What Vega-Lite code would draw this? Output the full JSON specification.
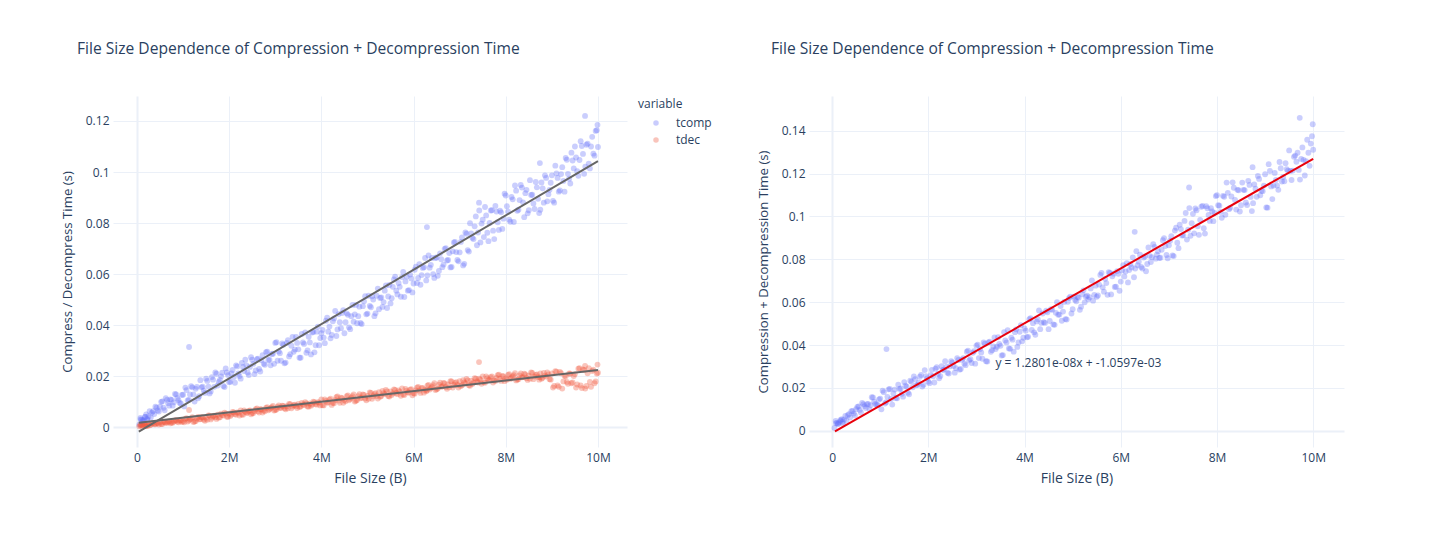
{
"$schema": "https://vega.github.io/schema/vega-lite/v6.json",
"autosize": {"type": "pad"},
"padding": {"left": 60, "top": 42, "right": 5, "bottom": 5},
"background": "white",
"bounds": "flush",
"spacing": 182,
"config": {
 "view": {"stroke": null},
 "font": "Open Sans",
 "axis": {"domain": false, "ticks": false, "gridColor": "#EBF0F8", "gridWidth": {"condition": {"test": "datum.value === 0", "value": 2}, "value": 1}, "labelColor": "#2a3f5f", "titleColor": "#2a3f5f", "labelFontSize": 12, "titleFontSize": 14, "titleFontWeight": "normal", "labelFont": "Open Sans", "titleFont": "Open Sans"},
 "axisX": {"labelPadding": 5, "titlePadding": 8},
 "axisY": {"labelPadding": 4, "titlePadding": 11, "titleFontSize": 13.2},
 "title": {"fontSize": 15.6, "fontWeight": "normal", "color": "#2a3f5f", "font": "Open Sans", "anchor": "start"}
},
"datasets": {
 "pts": [
{"size":0.05,"tcomp":0.0010,"tdec":0.0003,"total":0.0013},
{"size":0.08,"tcomp":0.0030,"tdec":0.0005,"total":0.0035},
{"size":0.10,"tcomp":0.0029,"tdec":0.0007,"total":0.0036},
{"size":0.12,"tcomp":0.0022,"tdec":0.0009,"total":0.0031},
{"size":0.15,"tcomp":0.0027,"tdec":0.0012,"total":0.0039},
{"size":0.18,"tcomp":0.0040,"tdec":0.0006,"total":0.0046},
{"size":0.20,"tcomp":0.0050,"tdec":0.0004,"total":0.0054},
{"size":0.22,"tcomp":0.0031,"tdec":0.0010,"total":0.0041},
{"size":0.25,"tcomp":0.0042,"tdec":0.0011,"total":0.0053},
{"size":0.30,"tcomp":0.0038,"tdec":0.0009,"total":0.0047},
{"size":0.35,"tcomp":0.0062,"tdec":0.0015,"total":0.0077},
{"size":0.40,"tcomp":0.0080,"tdec":0.0011,"total":0.0091},
{"size":0.45,"tcomp":0.0065,"tdec":0.0015,"total":0.0080},
{"size":0.50,"tcomp":0.0080,"tdec":0.0020,"total":0.0100},
{"size":0.55,"tcomp":0.0101,"tdec":0.0012,"total":0.0113},
{"size":0.60,"tcomp":0.0066,"tdec":0.0019,"total":0.0085},
{"size":0.65,"tcomp":0.0107,"tdec":0.0017,"total":0.0124},
{"size":0.70,"tcomp":0.0084,"tdec":0.0022,"total":0.0106},
{"size":0.75,"tcomp":0.0107,"tdec":0.0018,"total":0.0125},
{"size":0.80,"tcomp":0.0097,"tdec":0.0022,"total":0.0119},
{"size":0.85,"tcomp":0.0128,"tdec":0.0027,"total":0.0155},
{"size":0.90,"tcomp":0.0106,"tdec":0.0019,"total":0.0125},
{"size":0.95,"tcomp":0.0093,"tdec":0.0026,"total":0.0119},
{"size":1.00,"tcomp":0.0127,"tdec":0.0023,"total":0.0150},
{"size":1.05,"tcomp":0.0155,"tdec":0.0032,"total":0.0187},
{"size":1.10,"tcomp":0.0105,"tdec":0.0022,"total":0.0127},
{"size":1.13,"tcomp":0.0314,"tdec":0.0067,"total":0.0381},
{"size":1.15,"tcomp":0.0128,"tdec":0.0030,"total":0.0158},
{"size":1.20,"tcomp":0.0156,"tdec":0.0039,"total":0.0195},
{"size":1.25,"tcomp":0.0100,"tdec":0.0022,"total":0.0122},
{"size":1.30,"tcomp":0.0158,"tdec":0.0034,"total":0.0192},
{"size":1.35,"tcomp":0.0121,"tdec":0.0030,"total":0.0151},
{"size":1.40,"tcomp":0.0156,"tdec":0.0039,"total":0.0195},
{"size":1.45,"tcomp":0.0143,"tdec":0.0029,"total":0.0172},
{"size":1.50,"tcomp":0.0190,"tdec":0.0037,"total":0.0227},
{"size":1.55,"tcomp":0.0159,"tdec":0.0046,"total":0.0205},
{"size":1.60,"tcomp":0.0140,"tdec":0.0030,"total":0.0170},
{"size":1.65,"tcomp":0.0186,"tdec":0.0043,"total":0.0229},
{"size":1.70,"tcomp":0.0214,"tdec":0.0039,"total":0.0253},
{"size":1.75,"tcomp":0.0163,"tdec":0.0049,"total":0.0212},
{"size":1.80,"tcomp":0.0185,"tdec":0.0039,"total":0.0224},
{"size":1.85,"tcomp":0.0213,"tdec":0.0047,"total":0.0260},
{"size":1.90,"tcomp":0.0157,"tdec":0.0057,"total":0.0214},
{"size":1.95,"tcomp":0.0214,"tdec":0.0041,"total":0.0255},
{"size":2.00,"tcomp":0.0176,"tdec":0.0053,"total":0.0229},
{"size":2.05,"tcomp":0.0210,"tdec":0.0049,"total":0.0259},
{"size":2.10,"tcomp":0.0196,"tdec":0.0058,"total":0.0254},
{"size":2.15,"tcomp":0.0242,"tdec":0.0048,"total":0.0290},
{"size":2.20,"tcomp":0.0210,"tdec":0.0056,"total":0.0266},
{"size":2.25,"tcomp":0.0190,"tdec":0.0065,"total":0.0255},
{"size":2.30,"tcomp":0.0236,"tdec":0.0048,"total":0.0284},
{"size":2.35,"tcomp":0.0264,"tdec":0.0060,"total":0.0324},
{"size":2.40,"tcomp":0.0214,"tdec":0.0056,"total":0.0270},
{"size":2.45,"tcomp":0.0236,"tdec":0.0065,"total":0.0301},
{"size":2.50,"tcomp":0.0264,"tdec":0.0055,"total":0.0319},
{"size":2.55,"tcomp":0.0208,"tdec":0.0063,"total":0.0271},
{"size":2.60,"tcomp":0.0266,"tdec":0.0073,"total":0.0339},
{"size":2.65,"tcomp":0.0228,"tdec":0.0057,"total":0.0285},
{"size":2.70,"tcomp":0.0262,"tdec":0.0069,"total":0.0331},
{"size":2.75,"tcomp":0.0248,"tdec":0.0065,"total":0.0313},
{"size":2.80,"tcomp":0.0294,"tdec":0.0075,"total":0.0369},
{"size":2.85,"tcomp":0.0262,"tdec":0.0066,"total":0.0328},
{"size":2.90,"tcomp":0.0242,"tdec":0.0074,"total":0.0316},
{"size":2.95,"tcomp":0.0288,"tdec":0.0083,"total":0.0371},
{"size":3.00,"tcomp":0.0330,"tdec":0.0067,"total":0.0397},
{"size":3.05,"tcomp":0.0260,"tdec":0.0079,"total":0.0339},
{"size":3.10,"tcomp":0.0290,"tdec":0.0075,"total":0.0365},
{"size":3.15,"tcomp":0.0328,"tdec":0.0084,"total":0.0412},
{"size":3.20,"tcomp":0.0250,"tdec":0.0074,"total":0.0324},
{"size":3.25,"tcomp":0.0330,"tdec":0.0082,"total":0.0412},
{"size":3.30,"tcomp":0.0277,"tdec":0.0091,"total":0.0368},
{"size":3.35,"tcomp":0.0319,"tdec":0.0074,"total":0.0393},
{"size":3.40,"tcomp":0.0295,"tdec":0.0086,"total":0.0381},
{"size":3.45,"tcomp":0.0354,"tdec":0.0082,"total":0.0436},
{"size":3.50,"tcomp":0.0305,"tdec":0.0091,"total":0.0396},
{"size":3.55,"tcomp":0.0272,"tdec":0.0081,"total":0.0353},
{"size":3.60,"tcomp":0.0332,"tdec":0.0089,"total":0.0421},
{"size":3.65,"tcomp":0.0371,"tdec":0.0098,"total":0.0469},
{"size":3.70,"tcomp":0.0301,"tdec":0.0081,"total":0.0382},
{"size":3.75,"tcomp":0.0332,"tdec":0.0093,"total":0.0425},
{"size":3.80,"tcomp":0.0371,"tdec":0.0089,"total":0.0460},
{"size":3.85,"tcomp":0.0293,"tdec":0.0098,"total":0.0391},
{"size":3.90,"tcomp":0.0374,"tdec":0.0088,"total":0.0462},
{"size":3.95,"tcomp":0.0321,"tdec":0.0096,"total":0.0417},
{"size":4.00,"tcomp":0.0368,"tdec":0.0109,"total":0.0477},
{"size":4.05,"tcomp":0.0351,"tdec":0.0085,"total":0.0436},
{"size":4.10,"tcomp":0.0417,"tdec":0.0103,"total":0.0520},
{"size":4.15,"tcomp":0.0374,"tdec":0.0096,"total":0.0470},
{"size":4.20,"tcomp":0.0348,"tdec":0.0111,"total":0.0459},
{"size":4.25,"tcomp":0.0415,"tdec":0.0095,"total":0.0510},
{"size":4.30,"tcomp":0.0455,"tdec":0.0106,"total":0.0561},
{"size":4.35,"tcomp":0.0383,"tdec":0.0120,"total":0.0503},
{"size":4.40,"tcomp":0.0411,"tdec":0.0095,"total":0.0506},
{"size":4.45,"tcomp":0.0447,"tdec":0.0113,"total":0.0560},
{"size":4.50,"tcomp":0.0368,"tdec":0.0106,"total":0.0474},
{"size":4.55,"tcomp":0.0446,"tdec":0.0121,"total":0.0567},
{"size":4.60,"tcomp":0.0391,"tdec":0.0105,"total":0.0496},
{"size":4.65,"tcomp":0.0435,"tdec":0.0115,"total":0.0550},
{"size":4.70,"tcomp":0.0413,"tdec":0.0128,"total":0.0541},
{"size":4.75,"tcomp":0.0479,"tdec":0.0103,"total":0.0582},
{"size":4.80,"tcomp":0.0435,"tdec":0.0121,"total":0.0556},
{"size":4.85,"tcomp":0.0408,"tdec":0.0113,"total":0.0521},
{"size":4.90,"tcomp":0.0474,"tdec":0.0128,"total":0.0602},
{"size":4.95,"tcomp":0.0513,"tdec":0.0112,"total":0.0625},
{"size":5.00,"tcomp":0.0445,"tdec":0.0122,"total":0.0567},
{"size":5.05,"tcomp":0.0475,"tdec":0.0136,"total":0.0611},
{"size":5.10,"tcomp":0.0513,"tdec":0.0111,"total":0.0624},
{"size":5.15,"tcomp":0.0435,"tdec":0.0129,"total":0.0564},
{"size":5.20,"tcomp":0.0515,"tdec":0.0122,"total":0.0637},
{"size":5.25,"tcomp":0.0462,"tdec":0.0137,"total":0.0599},
{"size":5.30,"tcomp":0.0508,"tdec":0.0122,"total":0.0630},
{"size":5.35,"tcomp":0.0490,"tdec":0.0133,"total":0.0623},
{"size":5.40,"tcomp":0.0555,"tdec":0.0146,"total":0.0701},
{"size":5.45,"tcomp":0.0512,"tdec":0.0122,"total":0.0634},
{"size":5.50,"tcomp":0.0485,"tdec":0.0140,"total":0.0625},
{"size":5.55,"tcomp":0.0550,"tdec":0.0132,"total":0.0682},
{"size":5.60,"tcomp":0.0590,"tdec":0.0146,"total":0.0736},
{"size":5.65,"tcomp":0.0520,"tdec":0.0129,"total":0.0649},
{"size":5.70,"tcomp":0.0550,"tdec":0.0139,"total":0.0689},
{"size":5.75,"tcomp":0.0588,"tdec":0.0152,"total":0.0740},
{"size":5.80,"tcomp":0.0510,"tdec":0.0126,"total":0.0636},
{"size":5.85,"tcomp":0.0590,"tdec":0.0143,"total":0.0733},
{"size":5.90,"tcomp":0.0537,"tdec":0.0135,"total":0.0672},
{"size":5.95,"tcomp":0.0583,"tdec":0.0149,"total":0.0732},
{"size":6.00,"tcomp":0.0563,"tdec":0.0133,"total":0.0696},
{"size":6.05,"tcomp":0.0629,"tdec":0.0144,"total":0.0773},
{"size":6.10,"tcomp":0.0585,"tdec":0.0158,"total":0.0743},
{"size":6.15,"tcomp":0.0558,"tdec":0.0134,"total":0.0692},
{"size":6.20,"tcomp":0.0624,"tdec":0.0153,"total":0.0777},
{"size":6.25,"tcomp":0.0663,"tdec":0.0146,"total":0.0809},
{"size":6.29,"tcomp":0.0784,"tdec":0.0144,"total":0.0928},
{"size":6.30,"tcomp":0.0595,"tdec":0.0162,"total":0.0757},
{"size":6.35,"tcomp":0.0625,"tdec":0.0147,"total":0.0772},
{"size":6.40,"tcomp":0.0663,"tdec":0.0158,"total":0.0821},
{"size":6.45,"tcomp":0.0585,"tdec":0.0172,"total":0.0757},
{"size":6.50,"tcomp":0.0665,"tdec":0.0148,"total":0.0813},
{"size":6.55,"tcomp":0.0612,"tdec":0.0166,"total":0.0778},
{"size":6.60,"tcomp":0.0658,"tdec":0.0158,"total":0.0816},
{"size":6.65,"tcomp":0.0637,"tdec":0.0173,"total":0.0810},
{"size":6.70,"tcomp":0.0701,"tdec":0.0157,"total":0.0858},
{"size":6.75,"tcomp":0.0655,"tdec":0.0167,"total":0.0822},
{"size":6.80,"tcomp":0.0626,"tdec":0.0180,"total":0.0806},
{"size":6.85,"tcomp":0.0689,"tdec":0.0155,"total":0.0844},
{"size":6.90,"tcomp":0.0726,"tdec":0.0173,"total":0.0899},
{"size":6.95,"tcomp":0.0655,"tdec":0.0165,"total":0.0820},
{"size":7.00,"tcomp":0.0685,"tdec":0.0180,"total":0.0865},
{"size":7.05,"tcomp":0.0744,"tdec":0.0164,"total":0.0908},
{"size":7.10,"tcomp":0.0640,"tdec":0.0175,"total":0.0815},
{"size":7.15,"tcomp":0.0758,"tdec":0.0189,"total":0.0947},
{"size":7.20,"tcomp":0.0688,"tdec":0.0164,"total":0.0852},
{"size":7.25,"tcomp":0.0759,"tdec":0.0182,"total":0.0941},
{"size":7.30,"tcomp":0.0737,"tdec":0.0175,"total":0.0912},
{"size":7.35,"tcomp":0.0826,"tdec":0.0190,"total":0.1016},
{"size":7.40,"tcomp":0.0763,"tdec":0.0175,"total":0.0938},
{"size":7.42,"tcomp":0.0880,"tdec":0.0255,"total":0.1135},
{"size":7.45,"tcomp":0.0724,"tdec":0.0186,"total":0.0910},
{"size":7.50,"tcomp":0.0813,"tdec":0.0199,"total":0.1012},
{"size":7.55,"tcomp":0.0863,"tdec":0.0174,"total":0.1037},
{"size":7.60,"tcomp":0.0762,"tdec":0.0192,"total":0.0954},
{"size":7.65,"tcomp":0.0800,"tdec":0.0184,"total":0.0984},
{"size":7.70,"tcomp":0.0850,"tdec":0.0199,"total":0.1049},
{"size":7.75,"tcomp":0.0737,"tdec":0.0183,"total":0.0920},
{"size":7.80,"tcomp":0.0845,"tdec":0.0193,"total":0.1038},
{"size":7.85,"tcomp":0.0773,"tdec":0.0206,"total":0.0979},
{"size":7.90,"tcomp":0.0842,"tdec":0.0181,"total":0.1023},
{"size":7.95,"tcomp":0.0817,"tdec":0.0199,"total":0.1016},
{"size":8.00,"tcomp":0.0908,"tdec":0.0191,"total":0.1099},
{"size":8.05,"tcomp":0.0845,"tdec":0.0205,"total":0.1050},
{"size":8.10,"tcomp":0.0805,"tdec":0.0189,"total":0.0994},
{"size":8.15,"tcomp":0.0893,"tdec":0.0199,"total":0.1092},
{"size":8.20,"tcomp":0.0947,"tdec":0.0211,"total":0.1158},
{"size":8.25,"tcomp":0.0848,"tdec":0.0186,"total":0.1034},
{"size":8.30,"tcomp":0.0890,"tdec":0.0203,"total":0.1093},
{"size":8.35,"tcomp":0.0939,"tdec":0.0195,"total":0.1134},
{"size":8.40,"tcomp":0.0823,"tdec":0.0209,"total":0.1032},
{"size":8.45,"tcomp":0.0930,"tdec":0.0192,"total":0.1122},
{"size":8.50,"tcomp":0.0850,"tdec":0.0202,"total":0.1052},
{"size":8.55,"tcomp":0.0910,"tdec":0.0214,"total":0.1124},
{"size":8.60,"tcomp":0.0877,"tdec":0.0188,"total":0.1065},
{"size":8.65,"tcomp":0.0961,"tdec":0.0205,"total":0.1166},
{"size":8.70,"tcomp":0.0895,"tdec":0.0196,"total":0.1091},
{"size":8.74,"tcomp":0.1035,"tdec":0.0195,"total":0.1230},
{"size":8.75,"tcomp":0.0852,"tdec":0.0210,"total":0.1062},
{"size":8.80,"tcomp":0.0936,"tdec":0.0193,"total":0.1129},
{"size":8.85,"tcomp":0.0987,"tdec":0.0202,"total":0.1189},
{"size":8.90,"tcomp":0.0885,"tdec":0.0214,"total":0.1099},
{"size":8.95,"tcomp":0.0930,"tdec":0.0188,"total":0.1118},
{"size":9.00,"tcomp":0.0987,"tdec":0.0210,"total":0.1197},
{"size":9.05,"tcomp":0.0880,"tdec":0.0161,"total":0.1041},
{"size":9.10,"tcomp":0.0995,"tdec":0.0217,"total":0.1212},
{"size":9.15,"tcomp":0.0923,"tdec":0.0158,"total":0.1081},
{"size":9.20,"tcomp":0.0992,"tdec":0.0211,"total":0.1203},
{"size":9.25,"tcomp":0.0965,"tdec":0.0179,"total":0.1144},
{"size":9.30,"tcomp":0.1055,"tdec":0.0199,"total":0.1254},
{"size":9.35,"tcomp":0.0993,"tdec":0.0170,"total":0.1163},
{"size":9.40,"tcomp":0.0955,"tdec":0.0209,"total":0.1164},
{"size":9.45,"tcomp":0.1045,"tdec":0.0175,"total":0.1220},
{"size":9.50,"tcomp":0.1100,"tdec":0.0208,"total":0.1308},
{"size":9.55,"tcomp":0.1003,"tdec":0.0167,"total":0.1170},
{"size":9.60,"tcomp":0.1047,"tdec":0.0231,"total":0.1278},
{"size":9.65,"tcomp":0.1102,"tdec":0.0153,"total":0.1255},
{"size":9.70,"tcomp":0.0993,"tdec":0.0224,"total":0.1217},
{"size":9.72,"tcomp":0.1220,"tdec":0.0240,"total":0.1460},
{"size":9.75,"tcomp":0.1107,"tdec":0.0161,"total":0.1268},
{"size":9.80,"tcomp":0.1033,"tdec":0.0231,"total":0.1264},
{"size":9.85,"tcomp":0.1100,"tdec":0.0158,"total":0.1258},
{"size":9.90,"tcomp":0.1072,"tdec":0.0225,"total":0.1297},
{"size":9.95,"tcomp":0.1161,"tdec":0.0179,"total":0.1340},
{"size":9.99,"tcomp":0.1185,"tdec":0.0245,"total":0.1430},
{"size":10.00,"tcomp":0.1098,"tdec":0.0213,"total":0.1311},
{"size":0.075,"tcomp":0.0036,"tdec":0.0010,"total":0.0046},
{"size":0.125,"tcomp":0.0027,"tdec":0.0006,"total":0.0033},
{"size":0.175,"tcomp":0.0040,"tdec":0.0010,"total":0.0050},
{"size":0.225,"tcomp":0.0029,"tdec":0.0004,"total":0.0033},
{"size":0.275,"tcomp":0.0062,"tdec":0.0007,"total":0.0069},
{"size":0.325,"tcomp":0.0057,"tdec":0.0015,"total":0.0072},
{"size":0.375,"tcomp":0.0051,"tdec":0.0011,"total":0.0062},
{"size":0.425,"tcomp":0.0076,"tdec":0.0016,"total":0.0092},
{"size":0.475,"tcomp":0.0061,"tdec":0.0010,"total":0.0071},
{"size":0.525,"tcomp":0.0099,"tdec":0.0012,"total":0.0111},
{"size":0.575,"tcomp":0.0076,"tdec":0.0021,"total":0.0097},
{"size":0.625,"tcomp":0.0113,"tdec":0.0017,"total":0.0130},
{"size":0.675,"tcomp":0.0094,"tdec":0.0021,"total":0.0115},
{"size":0.725,"tcomp":0.0109,"tdec":0.0015,"total":0.0124},
{"size":0.775,"tcomp":0.0084,"tdec":0.0017,"total":0.0101},
{"size":0.825,"tcomp":0.0130,"tdec":0.0026,"total":0.0156},
{"size":0.875,"tcomp":0.0113,"tdec":0.0022,"total":0.0135},
{"size":0.925,"tcomp":0.0095,"tdec":0.0026,"total":0.0121},
{"size":0.975,"tcomp":0.0126,"tdec":0.0020,"total":0.0146},
{"size":1.025,"tcomp":0.0081,"tdec":0.0019,"total":0.0100},
{"size":1.075,"tcomp":0.0145,"tdec":0.0035,"total":0.0180},
{"size":1.125,"tcomp":0.0107,"tdec":0.0026,"total":0.0133},
{"size":1.175,"tcomp":0.0160,"tdec":0.0033,"total":0.0193},
{"size":1.225,"tcomp":0.0128,"tdec":0.0020,"total":0.0148},
{"size":1.275,"tcomp":0.0150,"tdec":0.0024,"total":0.0174},
{"size":1.325,"tcomp":0.0113,"tdec":0.0040,"total":0.0153},
{"size":1.375,"tcomp":0.0184,"tdec":0.0031,"total":0.0215},
{"size":1.425,"tcomp":0.0159,"tdec":0.0038,"total":0.0197},
{"size":1.475,"tcomp":0.0134,"tdec":0.0025,"total":0.0159},
{"size":1.525,"tcomp":0.0181,"tdec":0.0029,"total":0.0210},
{"size":1.575,"tcomp":0.0132,"tdec":0.0045,"total":0.0177},
{"size":1.625,"tcomp":0.0196,"tdec":0.0037,"total":0.0233},
{"size":1.675,"tcomp":0.0158,"tdec":0.0045,"total":0.0203},
{"size":1.725,"tcomp":0.0209,"tdec":0.0032,"total":0.0241},
{"size":1.775,"tcomp":0.0177,"tdec":0.0037,"total":0.0214},
{"size":1.825,"tcomp":0.0199,"tdec":0.0053,"total":0.0252},
{"size":1.875,"tcomp":0.0161,"tdec":0.0045,"total":0.0206},
{"size":1.925,"tcomp":0.0230,"tdec":0.0053,"total":0.0283},
{"size":1.975,"tcomp":0.0204,"tdec":0.0040,"total":0.0244},
{"size":2.025,"tcomp":0.0178,"tdec":0.0044,"total":0.0222},
{"size":2.075,"tcomp":0.0224,"tdec":0.0060,"total":0.0284},
{"size":2.125,"tcomp":0.0174,"tdec":0.0051,"total":0.0225},
{"size":2.175,"tcomp":0.0238,"tdec":0.0058,"total":0.0296},
{"size":2.225,"tcomp":0.0200,"tdec":0.0045,"total":0.0245},
{"size":2.275,"tcomp":0.0252,"tdec":0.0049,"total":0.0301},
{"size":2.325,"tcomp":0.0220,"tdec":0.0065,"total":0.0285},
{"size":2.375,"tcomp":0.0242,"tdec":0.0056,"total":0.0298},
{"size":2.425,"tcomp":0.0204,"tdec":0.0063,"total":0.0267},
{"size":2.475,"tcomp":0.0274,"tdec":0.0050,"total":0.0324},
{"size":2.525,"tcomp":0.0248,"tdec":0.0054,"total":0.0302},
{"size":2.575,"tcomp":0.0222,"tdec":0.0070,"total":0.0292},
{"size":2.625,"tcomp":0.0268,"tdec":0.0062,"total":0.0330},
{"size":2.675,"tcomp":0.0218,"tdec":0.0070,"total":0.0288},
{"size":2.725,"tcomp":0.0282,"tdec":0.0057,"total":0.0339},
{"size":2.775,"tcomp":0.0244,"tdec":0.0062,"total":0.0306},
{"size":2.825,"tcomp":0.0296,"tdec":0.0078,"total":0.0374},
{"size":2.875,"tcomp":0.0264,"tdec":0.0070,"total":0.0334},
{"size":2.925,"tcomp":0.0286,"tdec":0.0078,"total":0.0364},
{"size":2.975,"tcomp":0.0248,"tdec":0.0065,"total":0.0313},
{"size":3.025,"tcomp":0.0333,"tdec":0.0069,"total":0.0402},
{"size":3.075,"tcomp":0.0296,"tdec":0.0085,"total":0.0381},
{"size":3.125,"tcomp":0.0260,"tdec":0.0076,"total":0.0336},
{"size":3.175,"tcomp":0.0323,"tdec":0.0083,"total":0.0406},
{"size":3.225,"tcomp":0.0253,"tdec":0.0070,"total":0.0323},
{"size":3.275,"tcomp":0.0341,"tdec":0.0074,"total":0.0415},
{"size":3.325,"tcomp":0.0286,"tdec":0.0090,"total":0.0376},
{"size":3.375,"tcomp":0.0354,"tdec":0.0081,"total":0.0435},
{"size":3.425,"tcomp":0.0304,"tdec":0.0088,"total":0.0392},
{"size":3.475,"tcomp":0.0330,"tdec":0.0075,"total":0.0405},
{"size":3.525,"tcomp":0.0272,"tdec":0.0079,"total":0.0351},
{"size":3.575,"tcomp":0.0365,"tdec":0.0095,"total":0.0460},
{"size":3.625,"tcomp":0.0326,"tdec":0.0086,"total":0.0412},
{"size":3.675,"tcomp":0.0291,"tdec":0.0093,"total":0.0384},
{"size":3.725,"tcomp":0.0354,"tdec":0.0080,"total":0.0434},
{"size":3.775,"tcomp":0.0285,"tdec":0.0084,"total":0.0369},
{"size":3.825,"tcomp":0.0373,"tdec":0.0100,"total":0.0473},
{"size":3.875,"tcomp":0.0321,"tdec":0.0091,"total":0.0412},
{"size":3.925,"tcomp":0.0394,"tdec":0.0098,"total":0.0492},
{"size":3.975,"tcomp":0.0349,"tdec":0.0085,"total":0.0434},
{"size":4.025,"tcomp":0.0381,"tdec":0.0086,"total":0.0467},
{"size":4.075,"tcomp":0.0329,"tdec":0.0109,"total":0.0438},
{"size":4.125,"tcomp":0.0429,"tdec":0.0096,"total":0.0525},
{"size":4.175,"tcomp":0.0394,"tdec":0.0108,"total":0.0502},
{"size":4.225,"tcomp":0.0361,"tdec":0.0087,"total":0.0448},
{"size":4.275,"tcomp":0.0426,"tdec":0.0094,"total":0.0520},
{"size":4.325,"tcomp":0.0357,"tdec":0.0117,"total":0.0474},
{"size":4.375,"tcomp":0.0443,"tdec":0.0104,"total":0.0547},
{"size":4.425,"tcomp":0.0388,"tdec":0.0115,"total":0.0503},
{"size":4.475,"tcomp":0.0458,"tdec":0.0095,"total":0.0553},
{"size":4.525,"tcomp":0.0411,"tdec":0.0101,"total":0.0512},
{"size":4.575,"tcomp":0.0440,"tdec":0.0124,"total":0.0564},
{"size":4.625,"tcomp":0.0384,"tdec":0.0110,"total":0.0494},
{"size":4.675,"tcomp":0.0479,"tdec":0.0121,"total":0.0600},
{"size":4.725,"tcomp":0.0442,"tdec":0.0100,"total":0.0542},
{"size":4.775,"tcomp":0.0407,"tdec":0.0106,"total":0.0513},
{"size":4.825,"tcomp":0.0472,"tdec":0.0129,"total":0.0601},
{"size":4.875,"tcomp":0.0404,"tdec":0.0115,"total":0.0519},
{"size":4.925,"tcomp":0.0493,"tdec":0.0126,"total":0.0619},
{"size":4.975,"tcomp":0.0442,"tdec":0.0105,"total":0.0547},
{"size":5.025,"tcomp":0.0515,"tdec":0.0111,"total":0.0626},
{"size":5.075,"tcomp":0.0470,"tdec":0.0134,"total":0.0604},
{"size":5.125,"tcomp":0.0500,"tdec":0.0121,"total":0.0621},
{"size":5.175,"tcomp":0.0446,"tdec":0.0133,"total":0.0579},
{"size":5.225,"tcomp":0.0543,"tdec":0.0112,"total":0.0655},
{"size":5.275,"tcomp":0.0506,"tdec":0.0119,"total":0.0625},
{"size":5.325,"tcomp":0.0471,"tdec":0.0142,"total":0.0613},
{"size":5.375,"tcomp":0.0535,"tdec":0.0129,"total":0.0664},
{"size":5.425,"tcomp":0.0467,"tdec":0.0140,"total":0.0607},
{"size":5.475,"tcomp":0.0557,"tdec":0.0120,"total":0.0677},
{"size":5.525,"tcomp":0.0505,"tdec":0.0126,"total":0.0631},
{"size":5.575,"tcomp":0.0579,"tdec":0.0148,"total":0.0727},
{"size":5.625,"tcomp":0.0535,"tdec":0.0134,"total":0.0669},
{"size":5.675,"tcomp":0.0565,"tdec":0.0144,"total":0.0709},
{"size":5.725,"tcomp":0.0511,"tdec":0.0123,"total":0.0634},
{"size":5.775,"tcomp":0.0608,"tdec":0.0128,"total":0.0736},
{"size":5.825,"tcomp":0.0571,"tdec":0.0150,"total":0.0721},
{"size":5.875,"tcomp":0.0535,"tdec":0.0136,"total":0.0671},
{"size":5.925,"tcomp":0.0598,"tdec":0.0147,"total":0.0745},
{"size":5.975,"tcomp":0.0528,"tdec":0.0125,"total":0.0653},
{"size":6.025,"tcomp":0.0617,"tdec":0.0131,"total":0.0748},
{"size":6.075,"tcomp":0.0565,"tdec":0.0155,"total":0.0720},
{"size":6.125,"tcomp":0.0639,"tdec":0.0143,"total":0.0782},
{"size":6.175,"tcomp":0.0596,"tdec":0.0154,"total":0.0750},
{"size":6.225,"tcomp":0.0627,"tdec":0.0135,"total":0.0762},
{"size":6.275,"tcomp":0.0575,"tdec":0.0141,"total":0.0716},
{"size":6.325,"tcomp":0.0673,"tdec":0.0165,"total":0.0838},
{"size":6.375,"tcomp":0.0636,"tdec":0.0153,"total":0.0789},
{"size":6.425,"tcomp":0.0600,"tdec":0.0164,"total":0.0764},
{"size":6.475,"tcomp":0.0663,"tdec":0.0145,"total":0.0808},
{"size":6.525,"tcomp":0.0593,"tdec":0.0151,"total":0.0744},
{"size":6.575,"tcomp":0.0681,"tdec":0.0174,"total":0.0855},
{"size":6.625,"tcomp":0.0627,"tdec":0.0160,"total":0.0787},
{"size":6.675,"tcomp":0.0699,"tdec":0.0171,"total":0.0870},
{"size":6.725,"tcomp":0.0653,"tdec":0.0150,"total":0.0803},
{"size":6.775,"tcomp":0.0682,"tdec":0.0156,"total":0.0838},
{"size":6.825,"tcomp":0.0628,"tdec":0.0179,"total":0.0807},
{"size":6.875,"tcomp":0.0724,"tdec":0.0165,"total":0.0889},
{"size":6.925,"tcomp":0.0686,"tdec":0.0176,"total":0.0862},
{"size":6.975,"tcomp":0.0650,"tdec":0.0155,"total":0.0805},
{"size":7.025,"tcomp":0.0726,"tdec":0.0161,"total":0.0887},
{"size":7.075,"tcomp":0.0634,"tdec":0.0184,"total":0.0818},
{"size":7.125,"tcomp":0.0763,"tdec":0.0171,"total":0.0934},
{"size":7.175,"tcomp":0.0694,"tdec":0.0183,"total":0.0877},
{"size":7.225,"tcomp":0.0799,"tdec":0.0162,"total":0.0961},
{"size":7.275,"tcomp":0.0742,"tdec":0.0169,"total":0.0911},
{"size":7.325,"tcomp":0.0787,"tdec":0.0192,"total":0.0979},
{"size":7.375,"tcomp":0.0713,"tdec":0.0179,"total":0.0892},
{"size":7.425,"tcomp":0.0849,"tdec":0.0190,"total":0.1039},
{"size":7.475,"tcomp":0.0798,"tdec":0.0170,"total":0.0968},
{"size":7.525,"tcomp":0.0745,"tdec":0.0176,"total":0.0921},
{"size":7.575,"tcomp":0.0830,"tdec":0.0199,"total":0.1029},
{"size":7.625,"tcomp":0.0729,"tdec":0.0185,"total":0.0914},
{"size":7.675,"tcomp":0.0849,"tdec":0.0196,"total":0.1045},
{"size":7.725,"tcomp":0.0770,"tdec":0.0175,"total":0.0945},
{"size":7.775,"tcomp":0.0867,"tdec":0.0181,"total":0.1048},
{"size":7.825,"tcomp":0.0803,"tdec":0.0204,"total":0.1007},
{"size":7.875,"tcomp":0.0848,"tdec":0.0190,"total":0.1038},
{"size":7.925,"tcomp":0.0777,"tdec":0.0201,"total":0.0978},
{"size":7.975,"tcomp":0.0915,"tdec":0.0180,"total":0.1095},
{"size":8.025,"tcomp":0.0866,"tdec":0.0186,"total":0.1052},
{"size":8.075,"tcomp":0.0813,"tdec":0.0208,"total":0.1021},
{"size":8.125,"tcomp":0.0902,"tdec":0.0194,"total":0.1096},
{"size":8.175,"tcomp":0.0804,"tdec":0.0204,"total":0.1008},
{"size":8.225,"tcomp":0.0927,"tdec":0.0183,"total":0.1110},
{"size":8.275,"tcomp":0.0852,"tdec":0.0188,"total":0.1040},
{"size":8.325,"tcomp":0.0949,"tdec":0.0210,"total":0.1159},
{"size":8.375,"tcomp":0.0881,"tdec":0.0196,"total":0.1077},
{"size":8.425,"tcomp":0.0917,"tdec":0.0207,"total":0.1124},
{"size":8.475,"tcomp":0.0838,"tdec":0.0185,"total":0.1023},
{"size":8.525,"tcomp":0.0968,"tdec":0.0190,"total":0.1158},
{"size":8.575,"tcomp":0.0911,"tdec":0.0212,"total":0.1123},
{"size":8.625,"tcomp":0.0855,"tdec":0.0198,"total":0.1053},
{"size":8.675,"tcomp":0.0940,"tdec":0.0207,"total":0.1147},
{"size":8.725,"tcomp":0.0839,"tdec":0.0186,"total":0.1025},
{"size":8.775,"tcomp":0.0959,"tdec":0.0190,"total":0.1149},
{"size":8.825,"tcomp":0.0880,"tdec":0.0212,"total":0.1092},
{"size":8.875,"tcomp":0.0977,"tdec":0.0198,"total":0.1175},
{"size":8.925,"tcomp":0.0913,"tdec":0.0207,"total":0.1120},
{"size":8.975,"tcomp":0.0958,"tdec":0.0186,"total":0.1144},
{"size":9.025,"tcomp":0.0887,"tdec":0.0155,"total":0.1042},
{"size":9.075,"tcomp":0.1025,"tdec":0.0219,"total":0.1244},
{"size":9.125,"tcomp":0.0977,"tdec":0.0163,"total":0.1140},
{"size":9.175,"tcomp":0.0928,"tdec":0.0216,"total":0.1144},
{"size":9.225,"tcomp":0.1019,"tdec":0.0151,"total":0.1170},
{"size":9.275,"tcomp":0.0923,"tdec":0.0201,"total":0.1124},
{"size":9.325,"tcomp":0.1048,"tdec":0.0177,"total":0.1225},
{"size":9.375,"tcomp":0.0974,"tdec":0.0210,"total":0.1184},
{"size":9.425,"tcomp":0.1076,"tdec":0.0172,"total":0.1248},
{"size":9.475,"tcomp":0.1014,"tdec":0.0200,"total":0.1214},
{"size":9.525,"tcomp":0.1057,"tdec":0.0155,"total":0.1212},
{"size":9.575,"tcomp":0.0985,"tdec":0.0229,"total":0.1214},
{"size":9.625,"tcomp":0.1121,"tdec":0.0163,"total":0.1284},
{"size":9.675,"tcomp":0.1071,"tdec":0.0226,"total":0.1297},
{"size":9.725,"tcomp":0.1021,"tdec":0.0151,"total":0.1172},
{"size":9.775,"tcomp":0.1111,"tdec":0.0211,"total":0.1322},
{"size":9.825,"tcomp":0.1014,"tdec":0.0177,"total":0.1191},
{"size":9.875,"tcomp":0.1138,"tdec":0.0220,"total":0.1358},
{"size":9.925,"tcomp":0.1064,"tdec":0.0172,"total":0.1236},
{"size":9.975,"tcomp":0.1164,"tdec":0.0210,"total":0.1374}
 ],
 "fitL": [
  {"size": 0.04, "value": -0.0018, "series": "tcomp"},
  {"size": 10.0, "value": 0.1043, "series": "tcomp"},
  {"size": 0.04, "value": 0.0017, "series": "tdec"},
  {"size": 10.0, "value": 0.0224, "series": "tdec"}
 ],
 "fitR": [
  {"size": 0.06, "total": -0.0003},
  {"size": 10.0, "total": 0.1269}
 ],
 "ann": [
  {"size": 5.12, "total": 0.0316, "label": "y = 1.2801e-08x + -1.0597e-03"}
 ]
},
"hconcat": [
 {
  "width": 514,
  "height": 351,
  "title": {"text": "File Size Dependence of Compression + Decompression Time", "anchor": "start", "frame": "group", "dx": -36, "offset": 38},
  "layer": [
   {
    "data": {"name": "pts"},
    "transform": [{"fold": ["tcomp", "tdec"], "as": ["variable", "value"]}],
    "mark": {"type": "circle", "size": 34, "opacity": 0.34},
    "encoding": {
     "x": {"field": "size", "type": "quantitative", "title": "File Size (B)", "scale": {"domain": [-0.52, 10.63], "nice": false, "zero": false}, "axis": {"values": [0, 2, 4, 6, 8, 10], "labelExpr": "datum.value == 0 ? '0' : datum.value + 'M'"}},
     "y": {"field": "value", "type": "quantitative", "title": "Compress / Decompress Time (s)", "scale": {"domain": [-0.0078, 0.1298], "nice": false, "zero": false}, "axis": {"values": [0, 0.02, 0.04, 0.06, 0.08, 0.1, 0.12], "format": "~g"}},
     "color": {"field": "variable", "type": "nominal", "scale": {"domain": ["tcomp", "tdec"], "range": ["#636efa", "#EF553B"]}, "legend": {"orient": "none", "legendX": 525, "legendY": 3, "title": "variable", "titleFontSize": 12, "titleFontWeight": "normal", "titleColor": "#2a3f5f", "titleFont": "Open Sans", "labelColor": "#2a3f5f", "labelFont": "Open Sans", "labelFontSize": 12, "symbolType": "circle", "symbolSize": 30, "symbolOpacity": 0.35, "symbolStrokeWidth": 0, "symbolOffset": 12, "labelOffset": 14, "rowPadding": 5, "titlePadding": 6}}
    }
   },
   {
    "data": {"name": "fitL"},
    "mark": {"type": "line", "color": "#666666", "strokeWidth": 2},
    "encoding": {
     "x": {"field": "size", "type": "quantitative", "title": "File Size (B)"},
     "y": {"field": "value", "type": "quantitative", "title": "Compress / Decompress Time (s)"},
     "detail": {"field": "series", "type": "nominal"}
    }
   }
  ]
 },
 {
  "width": 535,
  "height": 351,
  "title": {"text": "File Size Dependence of Compression + Decompression Time", "anchor": "start", "frame": "group", "dx": -38, "offset": 38},
  "layer": [
   {
    "data": {"name": "pts"},
    "mark": {"type": "circle", "size": 34, "opacity": 0.34, "color": "#636efa"},
    "encoding": {
     "x": {"field": "size", "type": "quantitative", "title": "File Size (B)", "scale": {"domain": [-0.48, 10.64], "nice": false, "zero": false}, "axis": {"values": [0, 2, 4, 6, 8, 10], "labelExpr": "datum.value == 0 ? '0' : datum.value + 'M'"}},
     "y": {"field": "total", "type": "quantitative", "title": "Compression + Decompression Time (s)", "scale": {"domain": [-0.0076, 0.1562], "nice": false, "zero": false}, "axis": {"values": [0, 0.02, 0.04, 0.06, 0.08, 0.1, 0.12, 0.14], "format": "~g"}}
    }
   },
   {
    "data": {"name": "fitR"},
    "mark": {"type": "line", "color": "#e8000b", "strokeWidth": 2},
    "encoding": {
     "x": {"field": "size", "type": "quantitative", "title": "File Size (B)"},
     "y": {"field": "total", "type": "quantitative", "title": "Compression + Decompression Time (s)"}
    }
   },
   {
    "data": {"name": "ann"},
    "mark": {"type": "text", "fontSize": 12, "color": "#2a3f5f", "font": "Open Sans", "align": "center", "baseline": "middle"},
    "encoding": {
     "x": {"field": "size", "type": "quantitative", "title": "File Size (B)"},
     "y": {"field": "total", "type": "quantitative", "title": "Compression + Decompression Time (s)"},
     "text": {"field": "label"}
    }
   }
  ]
 }
]
}
